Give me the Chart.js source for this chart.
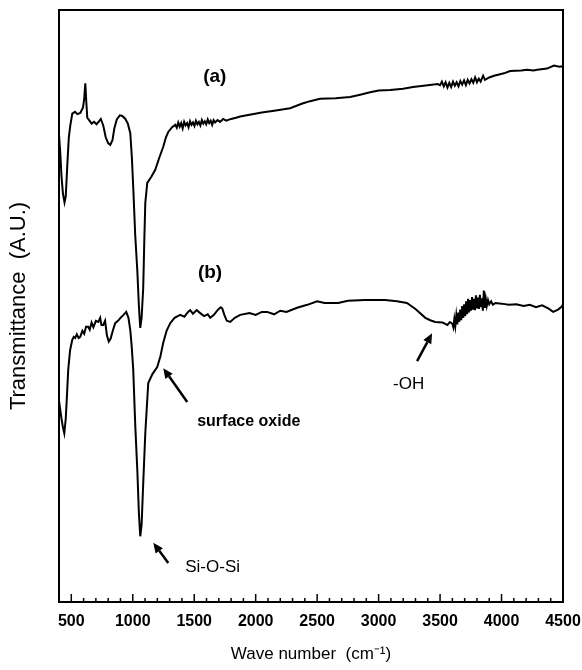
<!DOCTYPE html>
<html>
<head>
<meta charset="utf-8">
<script src="https://cdn.jsdelivr.net/npm/chart.js@4.4.1/dist/chart.umd.min.js"></script>
<style>
  html, body { margin: 0; padding: 0; background: #fff; }
  #wrap { width: 582px; height: 670px; position: relative; }
</style>
</head>
<body>
<div id="wrap"><canvas id="c" width="582" height="670"></canvas></div>
<script>
// ---- Data ----
const waveA = [400,410,420,432,445,455,468,480,492,508,530,550,573,595,605,614,622,630,645,665,685,705,725,740,760,780,800,817,835,850,870,895,915,940,960,980,993,1004,1020,1037,1050,1061,1072,1085,1095,1102,1118,1150,1183,1215,1248,1270,1289,1320,1346,1358,1370,1382,1394,1406,1418,1430,1442,1454,1466,1478,1490,1502,1514,1526,1538,1550,1562,1574,1586,1598,1610,1622,1634,1646,1658,1670,1690,1710,1735,1760,1800,1840,1874,1950,2050,2150,2280,2380,2443,2524,2650,2768,2850,2931,3000,3093,3200,3280,3400,3480,3500,3515,3530,3545,3560,3575,3590,3605,3620,3635,3650,3665,3680,3695,3710,3725,3740,3755,3770,3785,3800,3815,3830,3850,3865,3900,3939,4020,4070,4160,4207,4260,4290,4370,4427,4470,4500];
const transA = [79,76,72,69,67.5,68.5,74,78.5,80.5,82.5,82.8,82.4,82.6,83.5,85,87.6,84.5,81.8,81.4,80.8,81.1,80.7,81.2,81.6,80.5,78.5,77.5,77.2,78,80,81.5,82.2,82.1,81.6,80.8,79.2,75,70,62,56,50,46.3,48,53,62,67.4,70.8,71.8,73,75,76.9,78.5,79.4,80.2,80.6,80.1,81.0,80.3,80.9,80.0,81.1,80.5,80.9,80.2,81.2,80.6,81.0,80.4,81.3,80.7,81.1,80.5,81.4,80.8,81.2,80.7,81.5,80.9,81.3,80.6,81.4,81.0,81.4,81.1,81.6,81.3,81.6,81.8,82.0,82.3,82.7,83.0,83.4,84.2,84.6,85.0,85.1,85.3,85.7,86.1,86.4,86.5,86.7,87.0,87.3,87.5,87.3,87.9,87.1,87.8,86.9,87.7,87.0,87.9,87.2,87.8,87.1,88.0,87.4,88.1,87.3,88.2,87.6,88.3,87.7,88.6,87.8,88.4,87.9,88.9,88.2,88.6,88.9,89.3,89.7,89.8,89.9,89.8,89.9,90.1,90.6,90.4,90.5];

const waveB = [400,410,420,432,443,455,465,475,490,508,520,532,545,560,573,590,605,620,638,650,665,680,700,720,735,745,760,775,790,805,820,840,857,880,900,925,947,965,980,992,1004,1020,1037,1050,1061,1072,1085,1102,1126,1160,1199,1225,1248,1275,1305,1340,1386,1420,1450,1467,1490,1520,1549,1580,1610,1630,1660,1690,1715,1728,1745,1765,1793,1830,1874,1950,2000,2050,2093,2150,2200,2250,2337,2420,2500,2560,2671,2750,2890,3000,3052,3150,3230,3300,3380,3420,3460,3520,3560,3580,3600,3608,3616,3624,3632,3640,3648,3656,3664,3672,3680,3688,3696,3704,3712,3720,3728,3736,3744,3752,3760,3768,3776,3784,3792,3800,3808,3816,3824,3832,3840,3848,3856,3864,3872,3880,3890,3900,3915,3930,3950,4000,4060,4120,4180,4230,4280,4330,4380,4420,4460,4490,4500];
const transB = [34,32.5,31,29.5,28.5,31,35,39.2,42.5,44.3,44.8,44.6,45.2,44.6,44.8,45.8,45.3,46.5,46.5,46,47.2,46.4,47.5,47.3,48,46.8,46.8,47.5,45,44,44.5,46,47.1,47.5,48,48.5,49,48,45.9,43,39.2,30,22.3,15,11.1,13,20,28.5,37,38.5,39.7,41.5,43.8,45.8,47.1,48,48.5,48.2,49,49.3,48.7,49.3,48.8,48.3,48.6,48.0,48.5,49.3,49.8,49.6,48.5,47.5,47.3,48.0,48.5,48.8,48.5,49.0,49.0,48.6,49.2,49.0,49.7,50.2,50.8,50.5,50.5,50.9,51.0,51.0,51.0,50.8,50.5,49.5,48.0,47.6,47.3,47.2,46.8,47.3,47.0,46.4,47.8,46.6,48.4,46.9,48.9,47.3,49.4,47.6,50.0,48.0,50.3,48.3,50.8,48.6,51.2,48.9,51.0,49.2,51.5,49.4,51.2,49.3,51.8,49.6,51.4,49.5,51.9,49.8,51.3,49.2,52.6,49.7,51.2,50.0,51.0,50.3,50.8,50.2,50.5,50.4,50.2,50.3,50.0,50.2,49.8,50.1,49.6,49.0,49.4,49.9,50.3];

const xTickLabels = [500,1000,1500,2000,2500,3000,3500,4000,4500];
const xMinorStep = 100;

// annotations (text, wavenumber, transmittance)
const annotTexts = ["(a)", "(b)", "surface oxide", "Si-O-Si", "-OH"];
const annotX =     [1573, 1530, 1524, 1427, 3118];
const annotY =     [88.7, 55.6, 30.4, 5.9, 36.7];
// arrows: from -> to, in data units
const arrowFromX = [1443, 1289, 3313];
const arrowFromY = [33.8, 6.6, 40.7];
const arrowToX =   [1248, 1167, 3435];
const arrowToY =   [39.5, 10.0, 45.4];

const FONT = "'Liberation Sans', Arial, Helvetica, sans-serif";
const annotFonts = ["bold 19px " + FONT, "bold 19px " + FONT, "bold 16px " + FONT, "17px " + FONT, "17px " + FONT];

const framePlugin = {
  id: 'frame',
  afterDatasetsDraw(chart) {
    const {ctx, chartArea: a, scales: {x, y}} = chart;
    ctx.save();
    ctx.strokeStyle = '#000';
    ctx.lineWidth = 2;
    ctx.strokeRect(a.left, a.top, a.right - a.left, a.bottom - a.top);
    ctx.lineWidth = 1.5;
    for (let v = xTickLabels[0]; v <= xTickLabels[xTickLabels.length - 1]; v += xMinorStep) {
      const px = x.getPixelForValue(v);
      const len = (v % 500 === 0) ? 8 : 4;
      ctx.beginPath();
      ctx.moveTo(px, a.bottom);
      ctx.lineTo(px, a.bottom - len);
      ctx.stroke();
    }
    ctx.fillStyle = '#000';
    ctx.textBaseline = 'middle';
    ctx.textAlign = 'left';
    annotTexts.forEach((t, i) => {
      ctx.font = annotFonts[i];
      ctx.fillText(t, x.getPixelForValue(annotX[i]), y.getPixelForValue(annotY[i]));
    });
    ctx.lineWidth = 2.5;
    arrowFromX.forEach((fx, i) => {
      const x1 = x.getPixelForValue(fx), y1 = y.getPixelForValue(arrowFromY[i]);
      const x2 = x.getPixelForValue(arrowToX[i]), y2 = y.getPixelForValue(arrowToY[i]);
      const ang = Math.atan2(y2 - y1, x2 - x1);
      const hl = 10, hw = 4.5;
      const bx = x2 - hl * Math.cos(ang), by = y2 - hl * Math.sin(ang);
      ctx.beginPath();
      ctx.moveTo(x1, y1);
      ctx.lineTo(bx, by);
      ctx.stroke();
      ctx.beginPath();
      ctx.moveTo(x2, y2);
      ctx.lineTo(bx + hw * Math.sin(ang), by - hw * Math.cos(ang));
      ctx.lineTo(bx - hw * Math.sin(ang), by + hw * Math.cos(ang));
      ctx.closePath();
      ctx.fill();
    });
    ctx.restore();
  }
};

const toPts = (xs, ys) => xs.map((v, i) => ({x: v, y: ys[i]}));

new Chart(document.getElementById('c'), {
  type: 'line',
  data: {
    datasets: [
      { label: '(a)', data: toPts(waveA, transA), borderColor: '#000', borderWidth: 2, pointRadius: 0, tension: 0, fill: false },
      { label: '(b)', data: toPts(waveB, transB), borderColor: '#000', borderWidth: 2, pointRadius: 0, tension: 0, fill: false }
    ]
  },
  options: {
    responsive: false,
    animation: false,
    events: [],
    layout: { padding: { left: 0, right: 19, top: 10, bottom: 0 } },
    plugins: { legend: { display: false }, tooltip: { enabled: false } },
    scales: {
      x: {
        type: 'linear', min: 400, max: 4500, position: 'bottom',
        afterBuildTicks: s => { s.ticks = xTickLabels.map(v => ({ value: v })); },
        ticks: { color: '#000', font: { family: FONT, size: 16, weight: 'bold' }, padding: 10, maxRotation: 0, autoSkip: false,
                 callback: v => String(v) },
        grid: { display: false, drawTicks: false },
        border: { display: false },
        title: { display: true, text: 'Wave number  (cm\u207B\u00B9)', color: '#000', font: { family: FONT, size: 17 }, padding: { top: 0, bottom: 5 } },
        afterFit: s => { s.height = 68; s.paddingLeft = 0; s.paddingRight = 0; }
      },
      y: {
        type: 'linear', min: 0, max: 100,
        ticks: { display: false },
        grid: { display: false, drawTicks: false },
        border: { display: false },
        title: { display: true, text: 'Transmittance  (A.U.)', color: '#000', font: { family: FONT, size: 22 }, padding: { top: 6, bottom: 0 } },
        afterFit: s => { s.width = 59; }
      }
    }
  },
  plugins: [framePlugin]
});
</script>
</body>
</html>
